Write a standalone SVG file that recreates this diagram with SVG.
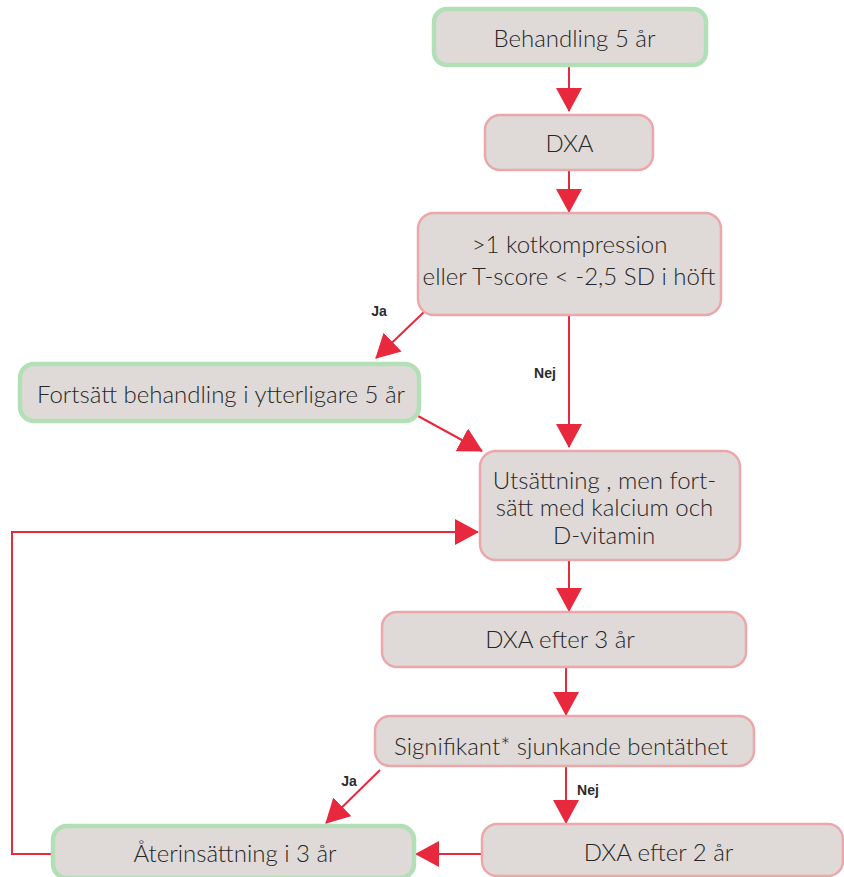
<svg xmlns="http://www.w3.org/2000/svg" width="844" height="877" viewBox="0 0 844 877">
<style>
.box{fill:#dfdad8;stroke:#eca7ab;stroke-width:2.5}
.g{fill:#dfdad8;stroke:#b3dfb6;stroke-width:4.5}
.t{font-family:Lato,"Open Sans",sans-serif;font-size:24px;font-weight:300;fill:#262626;text-anchor:middle}
.lbl{font-family:"Liberation Sans",Arial,sans-serif;font-size:14px;font-weight:bold;fill:#2a2a2a;text-anchor:middle;dominant-baseline:central}
.c{fill:none;stroke:#e8283c;stroke-width:2}
</style>
<defs>
<marker id="ah" markerUnits="userSpaceOnUse" markerWidth="24" markerHeight="26" refX="23" refY="13" orient="auto" viewBox="0 0 24 26">
<path d="M0,0 L24,13 L0,26 z" fill="#e8283c"/>
</marker>
</defs>
<rect width="844" height="877" fill="#ffffff"/>
<g id="connectors">
<line class="c" x1="569" y1="66" x2="569" y2="111" marker-end="url(#ah)"/>
<line class="c" x1="569" y1="171" x2="569" y2="212" marker-end="url(#ah)"/>
<line class="c" x1="424" y1="312" x2="376" y2="358" marker-end="url(#ah)"/>
<line class="c" x1="569" y1="316" x2="569" y2="447" marker-end="url(#ah)"/>
<line class="c" x1="418" y1="416" x2="482" y2="451" marker-end="url(#ah)"/>
<line class="c" x1="569" y1="561" x2="569" y2="611" marker-end="url(#ah)"/>
<line class="c" x1="566" y1="668" x2="566" y2="715" marker-end="url(#ah)"/>
<line class="c" x1="380" y1="770" x2="326" y2="823" marker-end="url(#ah)"/>
<line class="c" x1="566" y1="767" x2="566" y2="823" marker-end="url(#ah)"/>
<line class="c" x1="482" y1="854" x2="416" y2="854" marker-end="url(#ah)"/>
<polyline class="c" points="52,854 12,854 12,532 478,532" marker-end="url(#ah)"/>
<text class="lbl" x="379" y="311">Ja</text>
<text class="lbl" x="545" y="373">Nej</text>
<text class="lbl" x="349" y="781">Ja</text>
<text class="lbl" x="588" y="790">Nej</text>
</g>
<g id="n1"><rect class="g" x="434" y="9" width="272" height="56" rx="13"/><text class="t" x="574.5" y="47">Behandling 5 år</text></g>
<g id="n2"><rect class="box" x="485" y="115" width="168" height="55" rx="15"/><text class="t" x="569.5" y="152">DXA</text></g>
<g id="n3"><rect class="box" x="418" y="213" width="303" height="102" rx="16"/><text class="t" x="569.5" y="253">&gt;1 kotkompression</text><text class="t" x="569" y="285">eller T-score &lt; -2,5 SD i höft</text></g>
<g id="n4"><rect class="g" x="20" y="364" width="399" height="57" rx="14"/><text class="t" x="221" y="403">Fortsätt behandling i ytterligare 5 år</text></g>
<g id="n5"><rect class="box" x="480" y="451" width="260" height="109" rx="16"/><text class="t" x="604.5" y="489">Utsättning , men fort-</text><text class="t" x="604.5" y="516">sätt med kalcium och</text><text class="t" x="604" y="544">D-vitamin</text></g>
<g id="n6"><rect class="box" x="382" y="612" width="364" height="55" rx="15"/><text class="t" x="560" y="648">DXA efter 3 år</text></g>
<g id="n7"><rect class="box" x="375" y="716" width="379" height="50" rx="15"/><text class="t" x="561" y="755">Signifikant* sjunkande bentäthet</text></g>
<g id="n8"><rect class="box" x="482" y="824" width="361" height="52" rx="15"/><text class="t" x="658.5" y="861">DXA efter 2 år</text></g>
<g id="n9"><rect class="g" x="53" y="826" width="361" height="52" rx="14"/><text class="t" x="235" y="862">Återinsättning i 3 år</text></g>
</svg>
